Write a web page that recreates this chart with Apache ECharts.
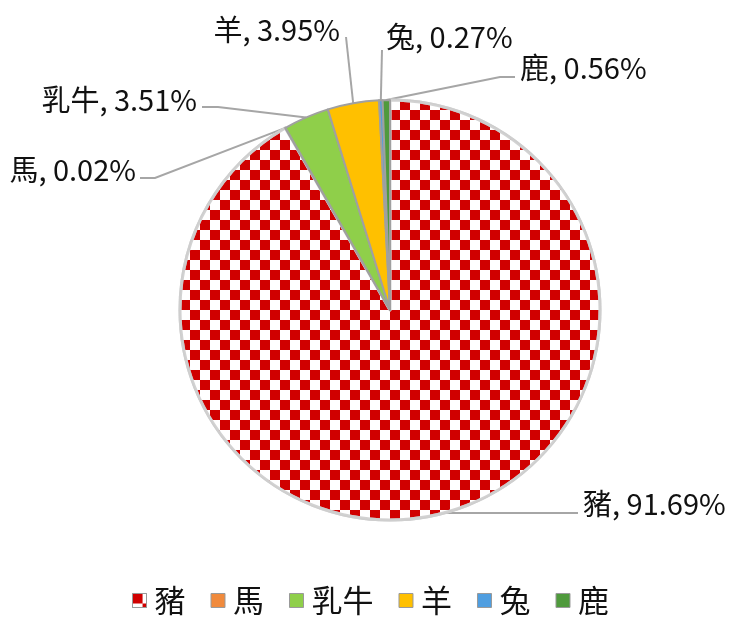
<!DOCTYPE html>
<html>
<head>
<meta charset="utf-8">
<script src="https://cdn.jsdelivr.net/npm/echarts@6/dist/echarts.min.js"></script>
<style>
  html, body { margin: 0; padding: 0; background: #fff; }
  #chart { width: 741px; height: 628px; }
</style>
</head>
<body>
<div id="chart"></div>
<script>
// 各畜種佔比
const categories = ['豬', '馬', '乳牛', '羊', '兔', '鹿'];
const shares = [91.69, 0.02, 3.51, 3.95, 0.27, 0.56];
const colors = ['#d00000', '#f08a3c', '#8fcf4a', '#ffc000', '#4f9ee0', '#4f9a3c'];

// 標籤位置 (像素) 及引導線折點
const labelSpots = [
  {x: 583, y: 504, align: 'left',  line: [[578, 513]]},
  {x: 136, y: 170, align: 'right', line: [[155, 178], [140, 178]]},
  {x: 197, y: 100, align: 'right', line: [[218, 107], [202, 107]]},
  {x: 340, y: 30,  align: 'right', line: [[346, 37]]},
  {x: 386, y: 37,  align: 'left',  line: [[382, 50]]},
  {x: 520, y: 68,  align: 'left',  line: [[500, 77], [515, 77]]}
];

const font = '"Noto Sans CJK TC", "Noto Sans", sans-serif';

const pieData = categories.map((name, i) => ({
  name: name,
  value: shares[i],
  itemStyle: i === 0 ? {
    color: colors[i],
    borderColor: 'rgba(205,205,205,0.9)',
    borderWidth: 3,
    decal: {
      symbol: 'rect',
      symbolSize: 1,
      color: '#ffffff',
      dashArrayX: [[10, 10], [0, 10, 10, 0]],
      dashArrayY: [10, 0]
    }
  } : {
    color: colors[i],
    borderColor: '#a0a0a0',
    borderWidth: 2
  }
}));

let chart = echarts.init(document.getElementById('chart'));
let option = {
  backgroundColor: '#ffffff',
  animation: false,
  legend: {
    data: categories,
    top: 580,
    left: 'center',
    itemWidth: 14,
    itemHeight: 14,
    itemGap: 25,
    icon: 'rect',
    itemStyle: { borderColor: '#999', borderWidth: 1 },
    textStyle: { fontFamily: font, fontSize: 31, color: '#111', padding: [0, 0, 0, 3] }
  },
  series: [
    {
      type: 'pie',
      center: [390, 310],
      radius: 210,
      startAngle: 90,
      clockwise: true,
      data: pieData,
      label: {
        show: true,
        formatter: p => p.name + ', ' + p.value.toFixed(2) + '%',
        fontFamily: font,
        fontSize: 29,
        color: '#111',
        overflow: 'none',
        alignTo: 'none'
      },
      labelLine: {
        show: true,
        lineStyle: { color: '#a6a6a6', width: 2 }
      },
      emphasis: { disabled: true },
      labelLayout: function (params) {
        const s = labelSpots[params.dataIndex];
        const anchor = params.labelLinePoints ? params.labelLinePoints[0] : null;
        const res = { x: s.x, y: s.y, align: s.align, verticalAlign: 'middle' };
        if (anchor) res.labelLinePoints = [anchor].concat(s.line);
        return res;
      }
    }
  ]
};
chart.setOption(option);
</script>
</body>
</html>
